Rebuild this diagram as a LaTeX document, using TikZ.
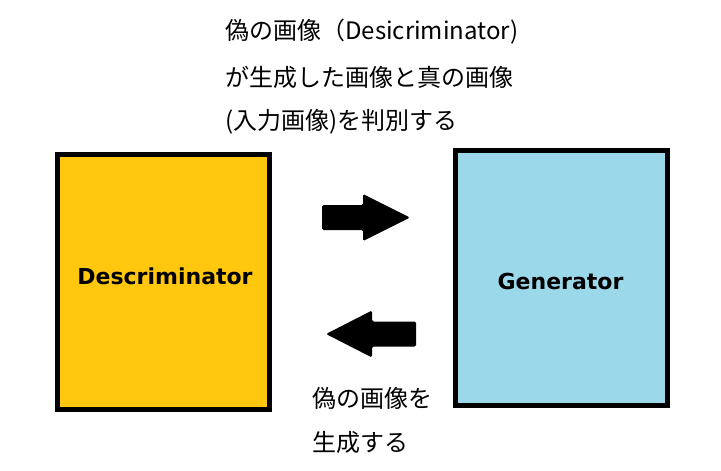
\documentclass[tikz,border=0pt]{standalone}
\usepackage{fontspec}
\setmainfont{Noto Sans CJK JP}
\newfontfamily\labelfont{DejaVu Sans}
\definecolor{discyellow}{RGB}{255,200,14}
\definecolor{genblue}{RGB}{155,217,234}

\begin{document}
\begin{tikzpicture}[x=1pt, y=-1pt,
    block/.style={draw=black, line width=5pt, anchor=center},
    blocklabel/.style={anchor=base, inner sep=0, font=\labelfont\bfseries\fontsize{22}{22}\selectfont},
    note/.style={anchor=base west, inner sep=0, font=\fontsize{24}{24}\selectfont},
    blockarrow/.style={fill=black, rounded corners=1.5pt}]
    \useasboundingbox (0, 0) rectangle (721, 471);
    \node[block, fill=discyellow, minimum width=211.5pt, minimum height=255pt] (disc) at (163.25, 282) {};
    \node[block, fill=genblue, minimum width=212pt, minimum height=255pt] (gen) at (561.5, 278) {};
    \node[blocklabel] (disclabel) at (165, 284) {Descriminator};
    \node[blocklabel] (genlabel) at (560.5, 289) {Generator};
    \fill[blockarrow] (322, 205) -- (363, 205) -- (363, 194) -- (410, 217.5)
        -- (363, 241) -- (363, 230) -- (322, 230) -- cycle;
    \fill[blockarrow] (416, 321.5) -- (372, 321.5) -- (372, 310.5) -- (326, 334)
        -- (372, 357.5) -- (372, 346.5) -- (416, 346.5) -- cycle;
    \node[note] (note1) at (225, 39) {偽の画像（Desicriminator)};
    \node[note] (note2) at (225, 86) {が生成した画像と真の画像};
    \node[note] (note3) at (225, 129) {(入力画像)を判別する};
    \node[note] (gennote1) at (312, 407) {偽の画像を};
    \node[note] (gennote2) at (312, 451) {生成する};
\end{tikzpicture}
\end{document}
